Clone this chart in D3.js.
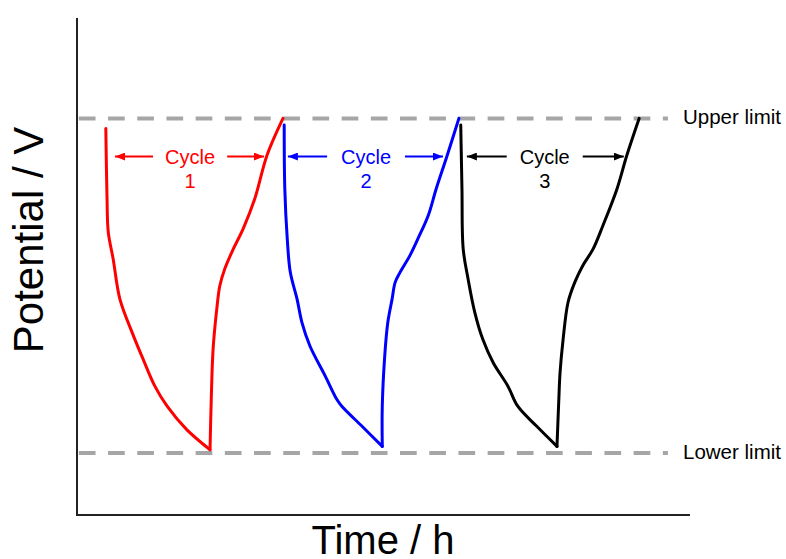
<!DOCTYPE html>
<html>
<head>
<meta charset="utf-8">
<script src="https://cdn.jsdelivr.net/npm/d3@7"></script>
<style>
  body { margin: 0; background: #fff; }
  text { font-family: Arial, "Liberation Sans", sans-serif; }
</style>
</head>
<body>
<div id="chart"></div>
<script>
// Charge / discharge cycles - potential vs time

// Cycle 1 (red)
const cycle1Time = [0.47, 0.49, 0.51, 0.59, 0.70, 0.90, 1.08, 1.27, 1.47, 1.79, 2.17, 2.19, 2.22, 2.28, 2.33, 2.41, 2.55, 2.71, 2.90, 3.10, 3.36];
const cycle1Potential = [1.97, 1.76, 1.66, 1.58, 1.46, 1.36, 1.28, 1.20, 1.14, 1.07, 1.01, 1.16, 1.31, 1.43, 1.50, 1.55, 1.61, 1.67, 1.76, 1.89, 2.00];

// Cycle 2 (blue)
const cycle2Time = [3.38, 3.39, 3.43, 3.48, 3.59, 3.67, 3.80, 4.05, 4.24, 4.32, 4.65, 4.98, 4.98, 5.02, 5.07, 5.14, 5.19, 5.27, 5.43, 5.56, 5.73, 5.86, 6.04, 6.23];
const cycle2Potential = [1.98, 1.79, 1.64, 1.54, 1.46, 1.39, 1.32, 1.23, 1.16, 1.14, 1.08, 1.02, 1.14, 1.29, 1.39, 1.46, 1.51, 1.54, 1.59, 1.64, 1.71, 1.79, 1.89, 2.00];

// Cycle 3 (black)
const cycle3Time = [6.26, 6.28, 6.30, 6.38, 6.49, 6.62, 6.79, 7.03, 7.19, 7.50, 7.83, 7.86, 7.88, 7.93, 8.01, 8.12, 8.25, 8.42, 8.58, 8.81, 8.97, 9.17];
const cycle3Potential = [1.98, 1.79, 1.61, 1.52, 1.42, 1.34, 1.27, 1.20, 1.14, 1.08, 1.02, 1.16, 1.24, 1.34, 1.45, 1.51, 1.56, 1.61, 1.68, 1.79, 1.89, 2.00];

// Limits
const limitNames = ["Upper limit", "Lower limit"];
const limitValues = [2.0, 1.0];

// Cycle arrows: tip and tail times (left and right arrow)
const cycleLabels = ["1", "2", "3"];
const cycleColors = ["#ff0000", "#0000ff", "#000000"];
const arrowLeftTip = [0.62, 3.44, 6.36];
const arrowLeftTail = [1.24, 4.08, 7.01];
const arrowRightTail = [2.45, 5.35, 8.25];
const arrowRightTip = [3.05, 5.97, 8.92];
const arrowPotential = 1.886;

const width = 786;
const height = 559;

const svg = d3.select("#chart")
    .append("svg")
    .attr("width", width)
    .attr("height", height);

const x = d3.scaleLinear().domain([0, 10]).range([77, 690]);
const y = d3.scaleLinear().domain([0.815, 2.3]).range([515, 18]);

// arrow head marker
svg.append("defs").selectAll("marker")
    .data(cycleColors)
    .enter()
    .append("marker")
    .attr("id", (d, i) => "head" + i)
    .attr("viewBox", "0 0 10 8")
    .attr("refX", 10)
    .attr("refY", 4)
    .attr("markerWidth", 10)
    .attr("markerHeight", 8)
    .attr("markerUnits", "userSpaceOnUse")
    .attr("orient", "auto")
    .append("path")
    .attr("d", "M0,0 L10,4 L0,8 Z")
    .attr("fill", d => d);

// limit lines
svg.selectAll(".limit")
    .data(limitValues)
    .enter()
    .append("line")
    .attr("class", "limit")
    .attr("x1", x(0.03))
    .attr("x2", x(9.64))
    .attr("y1", d => y(d))
    .attr("y2", d => y(d))
    .attr("stroke", "#a6a6a6")
    .attr("stroke-width", 4)
    .attr("stroke-dasharray", "16.7,12.5");

svg.selectAll(".limit-label")
    .data(limitValues)
    .enter()
    .append("text")
    .attr("x", 683)
    .attr("y", d => y(d) + 6)
    .style("font-size", "20.5px")
    .style("fill", "#000")
    .text((d, i) => limitNames[i]);

// curves - discharge and charge drawn as two smooth pieces, sharp at the bottom
const line = d3.line()
    .x(d => x(d[0]))
    .y(d => y(d[1]))
    .curve(d3.curveCatmullRom.alpha(0.5));

const cycles = [
    d3.zip(cycle1Time, cycle1Potential),
    d3.zip(cycle2Time, cycle2Potential),
    d3.zip(cycle3Time, cycle3Potential)
];

cycles.forEach((pts, i) => {
    const low = d3.minIndex(pts, d => d[1]);
    [pts.slice(0, low + 1), pts.slice(low)].forEach(part => {
        svg.append("path")
            .attr("d", line(part))
            .attr("fill", "none")
            .attr("stroke", cycleColors[i])
            .attr("stroke-width", 3)
            .attr("stroke-linejoin", "round")
            .attr("stroke-linecap", "round");
    });
});

// arrows and labels
cycleLabels.forEach((label, i) => {
    const color = cycleColors[i];
    const ay = y(arrowPotential);

    svg.append("line")
        .attr("x1", x(arrowLeftTail[i]))
        .attr("x2", x(arrowLeftTip[i]))
        .attr("y1", ay).attr("y2", ay)
        .attr("stroke", color)
        .attr("stroke-width", 2)
        .attr("marker-end", `url(#head${i})`);

    svg.append("line")
        .attr("x1", x(arrowRightTail[i]))
        .attr("x2", x(arrowRightTip[i]))
        .attr("y1", ay).attr("y2", ay)
        .attr("stroke", color)
        .attr("stroke-width", 2)
        .attr("marker-end", `url(#head${i})`);

    const cx = (x(arrowLeftTail[i]) + x(arrowRightTail[i])) / 2;

    svg.append("text")
        .attr("x", cx)
        .attr("y", ay + 7)
        .attr("text-anchor", "middle")
        .style("font-size", "20px")
        .style("fill", color)
        .text("Cycle");

    svg.append("text")
        .attr("x", cx)
        .attr("y", ay + 31)
        .attr("text-anchor", "middle")
        .style("font-size", "20px")
        .style("fill", color)
        .text(label);
});

// axis spines (no ticks)
svg.append("line")
    .attr("x1", 77).attr("x2", 77)
    .attr("y1", 18).attr("y2", 516)
    .attr("stroke", "#222")
    .attr("stroke-width", 2);

svg.append("line")
    .attr("x1", 76).attr("x2", 690)
    .attr("y1", 515).attr("y2", 515)
    .attr("stroke", "#222")
    .attr("stroke-width", 2);

// axis titles
svg.append("text")
    .attr("x", 383)
    .attr("y", 554)
    .attr("text-anchor", "middle")
    .style("font-size", "40px")
    .style("fill", "#000")
    .text("Time / h");

svg.append("text")
    .attr("transform", "translate(43, 240) rotate(-90)")
    .attr("text-anchor", "middle")
    .style("font-size", "42px")
    .style("fill", "#000")
    .text("Potential / V");
</script>
</body>
</html>
